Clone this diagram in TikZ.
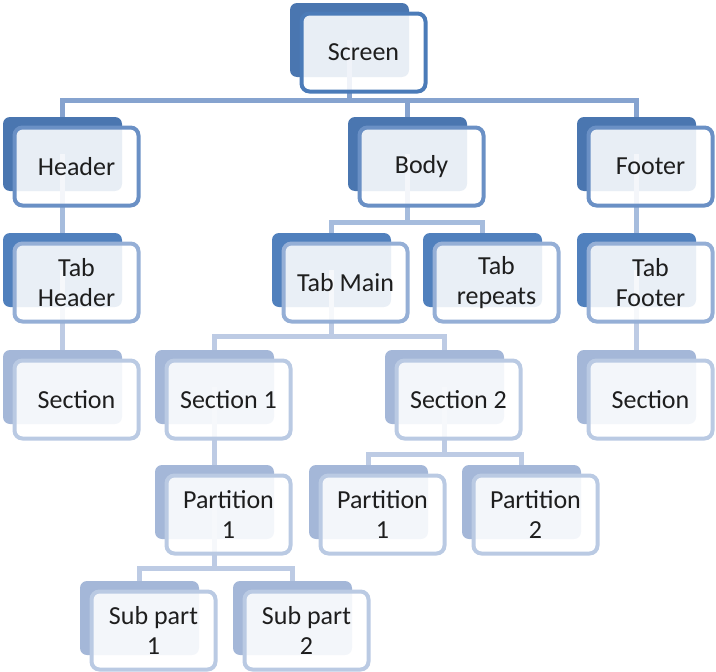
\documentclass[tikz,border=0pt]{standalone}
\usepackage{fontspec}
\setmainfont{Carlito}
\usetikzlibrary{positioning}
\definecolor{backA}{HTML}{4A76B0}
\definecolor{backB}{HTML}{5080BD}
\definecolor{backC}{HTML}{A4B7D8}
\definecolor{lineS}{HTML}{4B7BB8}
\definecolor{lineA}{HTML}{6A90C5}
\definecolor{lineB}{HTML}{95AFD6}
\definecolor{lineC}{HTML}{BACAE3}
\definecolor{linkA}{HTML}{86A3CF}
\definecolor{linkB}{HTML}{A6BCDD}
\definecolor{linkC}{HTML}{BDCBE4}
\definecolor{txt}{HTML}{1E1E1E}
\tikzset{backbox/.style={fill=#1, rounded corners=7pt, minimum width=119pt, minimum height=74pt, inner sep=0pt, outer sep=0pt},
frontbox/.style={draw=#1, line width=4pt, fill=white, fill opacity=0.88, text opacity=1, rounded corners=8pt,
  minimum width=124pt, minimum height=78pt, inner sep=0pt, outer sep=0pt, align=center, text=txt,
  font=\fontsize{26}{30}\selectfont},
link/.style={draw=#1, line width=5pt}}

\begin{document}
\begin{tikzpicture}[x=1pt, y=1pt]

\useasboundingbox (0,0) rectangle (716,-672);

% back plates
\node[backbox=backA, anchor=north west] (s0b) at (290,-3) {};
\node[backbox=backA, anchor=north west] (h1b) at (3,-117) {};
\node[backbox=backA, anchor=north west] (b1b) at (348,-117) {};
\node[backbox=backA, anchor=north west] (f1b) at (577,-117) {};
\node[backbox=backB, anchor=north west] (h2b) at (3,-233) {};
\node[backbox=backB, anchor=north west] (m2b) at (272,-233) {};
\node[backbox=backB, anchor=north west] (r2b) at (423,-233) {};
\node[backbox=backB, anchor=north west] (f2b) at (577,-233) {};
\node[backbox=backC, anchor=north west] (h3b) at (3,-350) {};
\node[backbox=backC, anchor=north west] (a3b) at (155,-350) {};
\node[backbox=backC, anchor=north west] (c3b) at (385,-350) {};
\node[backbox=backC, anchor=north west] (f3b) at (577,-350) {};
\node[backbox=backC, anchor=north west] (a4b) at (155,-465) {};
\node[backbox=backC, anchor=north west] (c4b) at (309,-465) {};
\node[backbox=backC, anchor=north west] (d4b) at (462,-465) {};
\node[backbox=backC, anchor=north west] (a5b) at (80,-581) {};
\node[backbox=backC, anchor=north west] (b5b) at (233,-581) {};

% bars
\coordinate (bar0) at (0,-100);
\coordinate (bar1) at (0,-222);
\coordinate (bar2) at (0,-336);
\coordinate (bar3) at (0,-454);
\coordinate (bar4) at (0,-568);

\draw[link=linkA] (s0b.center) -- (s0b.center |- bar0);
\draw[link=linkA] (h1b.north) -- (h1b.north |- bar0) -- (f1b.north |- bar0) -- (f1b.north);
\draw[link=linkA] (b1b.north) -- (b1b.north |- bar0);

\draw[link=linkB] (b1b.center) -- (b1b.center |- bar1);
\draw[link=linkB] (m2b.north) -- (m2b.north |- bar1) -- (r2b.north |- bar1) -- (r2b.north);

\draw[link=linkC] (m2b.center) -- (m2b.center |- bar2);
\draw[link=linkC] (a3b.north) -- (a3b.north |- bar2) -- (c3b.north |- bar2) -- (c3b.north);

\draw[link=linkC] (c3b.center) -- (c3b.center |- bar3);
\draw[link=linkC] (c4b.north) -- (c4b.north |- bar3) -- (d4b.north |- bar3) -- (d4b.north);

\draw[link=linkC] (a4b.center) -- (a4b.center |- bar4);
\draw[link=linkC] (a5b.north) -- (a5b.north |- bar4) -- (b5b.north |- bar4) -- (b5b.north);

\draw[link=linkB] (h1b.center) -- (h2b.north);
\draw[link=linkB] (f1b.center) -- (f2b.north);
\draw[link=linkC] (h2b.center) -- (h3b.north);
\draw[link=linkC] (f2b.center) -- (f3b.north);
\draw[link=linkC] (a3b.center) -- (a4b.north);

% front boxes
\node[frontbox=lineS, below right=10.5pt and 11.5pt of s0b.north west] (s0) {Screen};
\node[frontbox=lineA, below right=10.5pt and 11.5pt of h1b.north west] (h1) {Header};
\node[frontbox=lineA, below right=10.5pt and 11.5pt of b1b.north west] (b1) {Body};
\node[frontbox=lineA, below right=10.5pt and 11.5pt of f1b.north west] (f1) {Footer};
\node[frontbox=lineB, below right=10.5pt and 11.5pt of h2b.north west] (h2) {Tab\\Header};
\node[frontbox=lineB, below right=10.5pt and 11.5pt of m2b.north west] (m2) {Tab Main};
\node[frontbox=lineB, below right=10.5pt and 11.5pt of r2b.north west] (r2) {Tab\\repeats};
\node[frontbox=lineB, below right=10.5pt and 11.5pt of f2b.north west] (f2) {Tab\\Footer};
\node[frontbox=lineC, below right=10.5pt and 11.5pt of h3b.north west] (h3) {Section};
\node[frontbox=lineC, below right=10.5pt and 11.5pt of a3b.north west] (a3) {Section 1};
\node[frontbox=lineC, below right=10.5pt and 11.5pt of c3b.north west] (c3) {Section 2};
\node[frontbox=lineC, below right=10.5pt and 11.5pt of f3b.north west] (f3) {Section};
\node[frontbox=lineC, below right=10.5pt and 11.5pt of a4b.north west] (a4) {Partition\\1};
\node[frontbox=lineC, below right=10.5pt and 11.5pt of c4b.north west] (c4) {Partition\\1};
\node[frontbox=lineC, below right=10.5pt and 11.5pt of d4b.north west] (d4) {Partition\\2};
\node[frontbox=lineC, below right=10.5pt and 11.5pt of a5b.north west] (a5) {Sub part\\1};
\node[frontbox=lineC, below right=10.5pt and 11.5pt of b5b.north west] (b5) {Sub part\\2};

\end{tikzpicture}
\end{document}
